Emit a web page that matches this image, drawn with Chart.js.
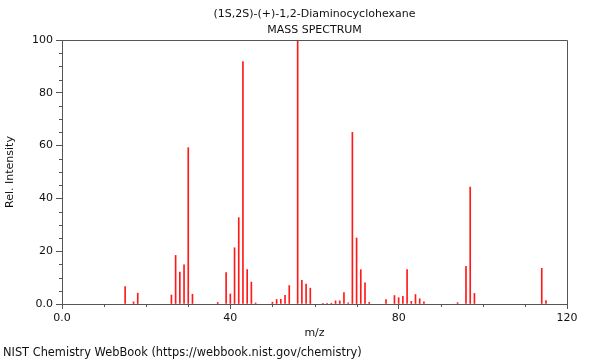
<!DOCTYPE html>
<html>
<head>
<meta charset="utf-8">
<script src="https://cdn.jsdelivr.net/npm/chart.js@4.4.1/dist/chart.umd.min.js"></script>
<style>
  html, body { margin: 0; padding: 0; background: #fff; }
  #wrap { width: 600px; height: 360px; position: relative; }
</style>
</head>
<body>
<div id="wrap"><canvas id="c" width="600" height="360"></canvas></div>
<script>
// ---- data ----
const titleLines = ["(1S,2S)-(+)-1,2-Diaminocyclohexane", "MASS SPECTRUM"];
const footerText = "NIST Chemistry WebBook (https://webbook.nist.gov/chemistry)";
const xAxisTitle = "m/z";
const yAxisTitle = "Rel. Intensity";

const mz = [15, 17, 18, 26, 27, 28, 29, 30, 31, 37, 39, 40, 41, 42, 43, 44, 45, 46,
            50, 51, 52, 53, 54, 56, 57, 58, 59, 62, 63, 64, 65, 66, 67, 68, 69, 70,
            71, 72, 73, 77, 79, 80, 81, 82, 83, 84, 85, 86, 94, 96, 97, 98, 114, 115];
const relIntensity = [6.6, 0.8, 4.1, 3.4, 18.4, 12.1, 14.8, 59.2, 3.7, 0.6, 11.9, 3.8, 21.3, 32.7, 91.8, 13.0, 8.3, 0.4,
            0.7, 1.7, 1.8, 3.3, 7.0, 100, 9.0, 7.5, 6.0, 0.3, 0.3, 0.3, 1.2, 1.2, 4.3, 0.4, 65.0, 25.0,
            13.0, 8.0, 0.6, 1.7, 3.2, 2.4, 2.9, 13.0, 1.0, 3.6, 2.0, 0.8, 0.5, 14.3, 44.3, 4.0, 13.5, 1.3];

const xTickValues = [0, 40, 80, 120];
const xTickLabels = ["0.0", "40", "80", "120"];
const yTickValues = [0, 20, 40, 60, 80, 100];
const yTickLabels = ["0.0", "20", "40", "60", "80", "100"];

// ---- styling ----
const FONT = "'DejaVu Sans', 'Liberation Sans', sans-serif";
const TEXT = "#111";
const AXIS = "#555";

const frameAndText = {
  id: 'frameAndText',
  afterDraw(chart) {
    const {ctx, chartArea: a, scales} = chart;
    ctx.save();
    // frame
    ctx.strokeStyle = AXIS;
    ctx.lineWidth = 1;
    ctx.beginPath();
    ctx.moveTo(Math.round(a.left) + 0.5, Math.round(a.bottom) + 0.5);
    ctx.lineTo(Math.round(a.left) + 0.5, Math.round(a.top) + 0.5);
    ctx.lineTo(Math.round(a.right) + 0.5, Math.round(a.top) + 0.5);
    ctx.lineTo(Math.round(a.right) + 0.5, Math.round(a.bottom) + 0.5);
    ctx.lineTo(Math.round(a.left) + 0.5, Math.round(a.bottom) + 0.5);
    ctx.stroke();
    // minor ticks
    ctx.beginPath();
    for (let v = 0; v <= 120; v += 10) {
      if (xTickValues.includes(v)) continue;
      const px = Math.round(scales.x.getPixelForValue(v)) + 0.5;
      ctx.moveTo(px, a.bottom);
      ctx.lineTo(px, a.bottom + 3);
    }
    for (let v = 0; v <= 100; v += 5) {
      if (yTickValues.includes(v)) continue;
      const py = Math.round(scales.y.getPixelForValue(v)) + 0.5;
      ctx.moveTo(a.left, py);
      ctx.lineTo(a.left - 3, py);
    }
    ctx.stroke();
    // titles
    ctx.fillStyle = TEXT;
    ctx.font = "11px " + FONT;
    ctx.textAlign = 'center';
    ctx.textBaseline = 'middle';
    const cx = (a.left + a.right) / 2;
    ctx.fillText(titleLines[0], cx, 14);
    ctx.fillText(titleLines[1], cx, 30);
    // footer
    ctx.font = "11.4px " + FONT;
    ctx.textAlign = 'left';
    ctx.fillText(footerText, 3, 353);
    ctx.restore();
  }
};

new Chart(document.getElementById('c'), {
  type: 'bar',
  data: {
    datasets: [{
      data: mz.map((m, i) => ({x: m, y: relIntensity[i]})),
      backgroundColor: '#ff1a1a',
      borderWidth: 0,
      barThickness: 1,
      grouped: false
    }]
  },
  options: {
    responsive: false,
    animation: false,
    events: [],
    layout: { padding: { top: 40, right: 33, left: 0, bottom: 0 } },
    plugins: { legend: { display: false }, tooltip: { enabled: false }, title: { display: false } },
    scales: {
      x: {
        type: 'linear',
        min: 0, max: 120,
        offset: false,
        afterFit(s) { s.height = 56; },
        grid: { drawOnChartArea: false, offset: false, tickLength: 5, tickColor: AXIS, color: AXIS },
        border: { display: true, color: AXIS },
        ticks: {
          stepSize: 40, autoSkip: false, maxRotation: 0, padding: 3,
          color: TEXT, font: { family: FONT, size: 11 },
          callback: (v) => { const i = xTickValues.indexOf(v); return i >= 0 ? xTickLabels[i] : null; }
        },
        title: { display: true, text: xAxisTitle, color: TEXT, font: { family: FONT, size: 11 }, padding: { top: 0, bottom: 20 } }
      },
      y: {
        min: 0, max: 100,
        afterFit(s) { s.width = 62; },
        grid: { drawOnChartArea: false, tickLength: 6, tickColor: AXIS, color: AXIS },
        border: { display: true, color: AXIS },
        ticks: {
          stepSize: 20, autoSkip: false, padding: 3,
          color: TEXT, font: { family: FONT, size: 11 },
          callback: (v) => { const i = yTickValues.indexOf(v); return i >= 0 ? yTickLabels[i] : null; }
        },
        title: { display: true, text: yAxisTitle, color: TEXT, font: { family: FONT, size: 11 }, padding: { top: 4, bottom: 0 } }
      }
    }
  },
  plugins: [frameAndText]
});
</script>
</body>
</html>
